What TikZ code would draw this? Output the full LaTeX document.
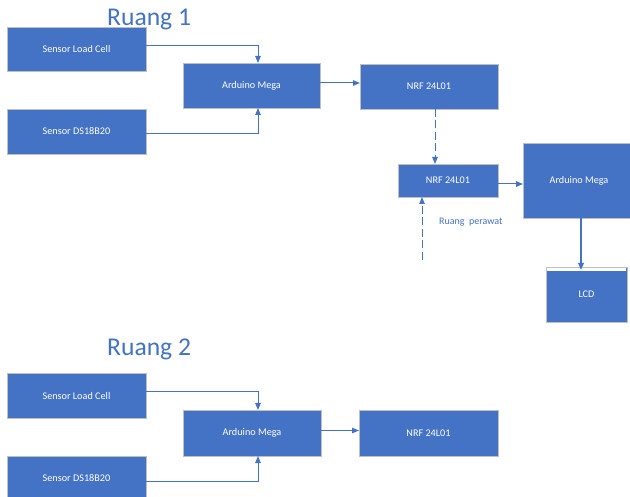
\documentclass[tikz,border=0pt]{standalone}
\usepackage{fontspec}
\setmainfont{Carlito}
\usetikzlibrary{arrows.meta}
\definecolor{ablue}{HTML}{4472C4}
\definecolor{bgray}{HTML}{BFBFBF}
\tikzset{
  blk/.style={draw=bgray, line width=0.8pt, fill=ablue, text=white, inner sep=0pt, outer sep=0pt,
    font=\fontsize{10.2}{12}\selectfont},
  conn/.style={draw=ablue, line width=1pt, -{Triangle[length=7pt,width=5.5pt]}},
  dconn/.style={conn, line width=1pt, dash pattern=on 8pt off 3.5pt},
  title/.style={text=ablue, font=\fontsize{25.6}{28}\selectfont, inner sep=0pt, anchor=base west},
  lbl/.style={text=ablue, font=\fontsize{10}{12}\selectfont, inner sep=0pt, anchor=west}
}
\begin{document}
\begin{tikzpicture}[x=1pt,y=-1pt]
\useasboundingbox (0,0) rectangle (630,497);
\clip (0,0) rectangle (630,497);
\fill[white] (0,0) rectangle (630,497);
% Ruang 1
\node[title] (t1) at (107,26) {Ruang 1};
\node[blk, minimum width=139pt, minimum height=44pt] (lc1) at (76.5,49) {Sensor Load Cell};
\node[blk, minimum width=139pt, minimum height=45pt] (ds1) at (76.5,131.5) {Sensor DS18B20};
\node[blk, minimum width=137pt, minimum height=45pt] (ard1) at (251.5,85.5) {Arduino Mega};
\node[blk, minimum width=138pt, minimum height=45pt] (nrf1) at (429,86.5) {NRF 24L01};
\node[blk, minimum width=100pt, minimum height=33pt] (nrf2) at (448,180.5) {NRF 24L01};
\node[blk, minimum width=112pt, minimum height=75pt] (ard2) at (579,180.5) {Arduino Mega};
\node[blk, minimum width=81pt, minimum height=55pt] (lcd) at (586.5,294.5) {LCD};
\fill[white] ([xshift=0.6pt,yshift=-0.6pt]lcd.north west) rectangle ([xshift=-0.6pt,yshift=-4.5pt]lcd.north east);
\node[lbl] (rp) at (439,222) {Ruang\ \ perawat};
\coordinate (c1) at ([yshift=2.5pt]ard1.east);
\coordinate (d1) at ([xshift=6pt]nrf1.south);
\coordinate (c2) at ([yshift=-3.5pt]nrf2.east);
\coordinate (d2) at ([xshift=2pt]ard2.south);
\coordinate (fr) at (422,260);
\draw[conn] ([yshift=3.3pt]lc1.east) -| ([xshift=6.5pt]ard1.north);
\draw[conn] ([yshift=-2.5pt]ds1.east) -| ([xshift=6.5pt]ard1.south);
\draw[conn] (c1) -- (c1 -| nrf1.west);
\draw[dconn] (d1) -- (d1 |- nrf2.north);
\draw[dconn] (fr) -- (fr |- nrf2.south);
\draw[conn] (c2) -- (c2 -| ard2.west);
\draw[conn, line width=2pt, shorten >=-3pt] (d2) -- (d2 |- lcd.north);
% Ruang 2
\node[title] (t2) at (107,356) {Ruang 2};
\node[blk, minimum width=139pt, minimum height=45pt] (lc2) at (76.5,395.5) {Sensor Load Cell};
\node[blk, minimum width=139pt, minimum height=45pt] (ds2) at (76.5,478.5) {Sensor DS18B20};
\node[blk, minimum width=138pt, minimum height=46pt] (ard3) at (252,433) {Arduino Mega};
\node[blk, minimum width=139pt, minimum height=46pt] (nrf3) at (428.5,433) {NRF 24L01};
\coordinate (c3) at ([yshift=2.5pt]ard3.east);
\draw[conn] ([yshift=3.5pt]lc2.east) -| ([xshift=6pt]ard3.north);
\draw[conn] ([yshift=-2.5pt]ds2.east) -| ([xshift=6pt]ard3.south);
\draw[conn] (c3) -- (c3 -| nrf3.west);
\end{tikzpicture}
\end{document}
